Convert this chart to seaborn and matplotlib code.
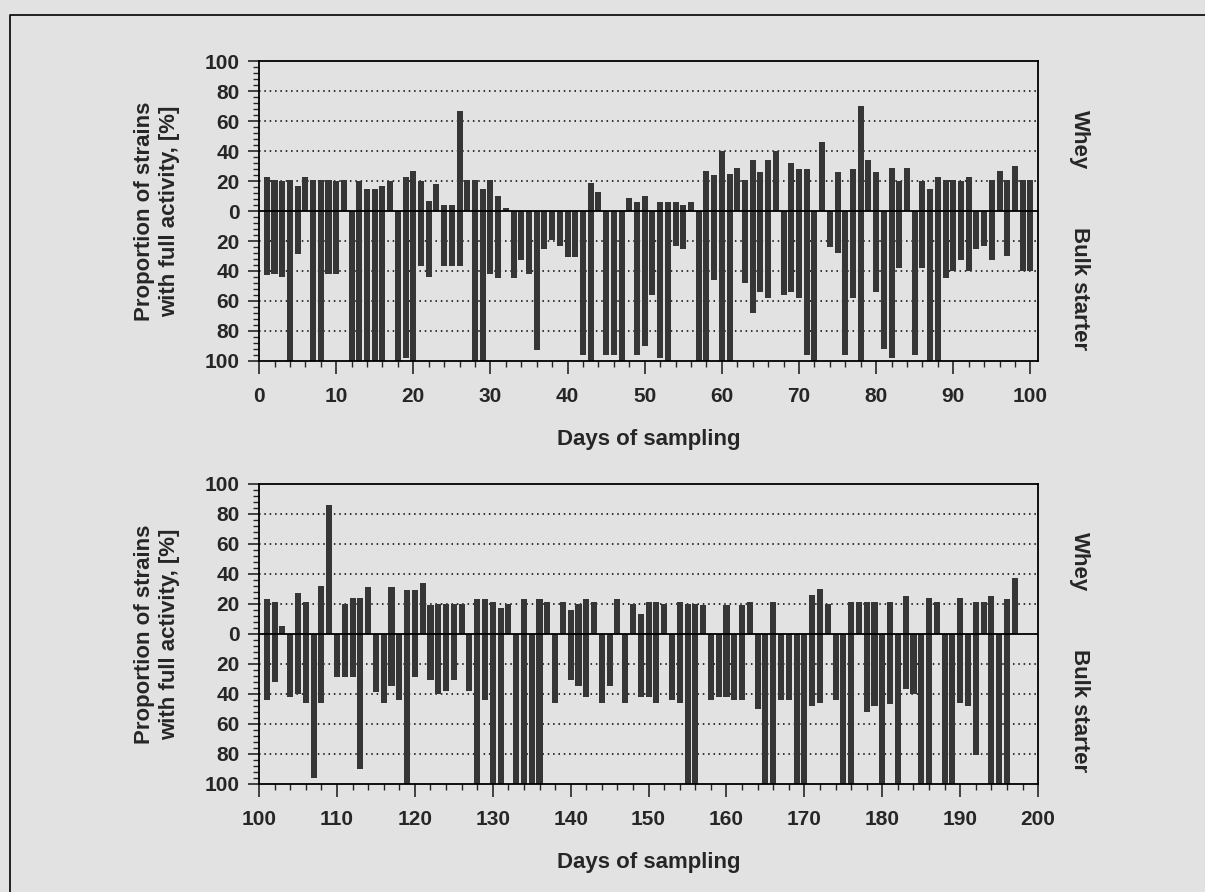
import pandas as pd
import matplotlib.pyplot as plt
import seaborn as sns
from matplotlib.ticker import MultipleLocator
from matplotlib.lines import Line2D

# days 1-100 (upper panel)
days_a = list(range(1, 101))
whey_a = [23, 21, 20, 21, 17, 23, 21, 21, 21, 20,
          21, 0, 20, 15, 15, 17, 20, 0, 23, 27,
          20, 7, 18, 4, 4, 67, 21, 21, 15, 21,
          10, 2, 0, 0, 0, 0, 0, 0, 0, 0,
          0, 0, 19, 13, 0, 0, 0, 9, 6, 10,
          0, 6, 6, 6, 4, 6, 0, 27, 24, 40,
          25, 29, 21, 34, 26, 34, 40, 0, 32, 28,
          28, 0, 46, 0, 26, 0, 28, 70, 34, 26,
          0, 29, 20, 29, 0, 20, 15, 23, 21, 21,
          20, 23, 0, 0, 21, 27, 21, 30, 21, 21]
bulk_a = [43, 42, 44, 100, 29, 0, 100, 100, 42, 42,
          0, 100, 100, 100, 100, 100, 0, 100, 98, 100,
          37, 44, 0, 37, 37, 37, 0, 100, 100, 42,
          45, 0, 45, 33, 42, 93, 25, 19, 23, 31,
          31, 96, 100, 0, 96, 96, 100, 0, 96, 90,
          56, 98, 100, 23, 25, 0, 100, 100, 46, 100,
          100, 0, 48, 68, 54, 58, 0, 56, 54, 58,
          96, 100, 0, 24, 28, 96, 58, 100, 0, 54,
          92, 98, 38, 0, 96, 38, 100, 100, 45, 40,
          33, 40, 25, 23, 33, 0, 30, 0, 40, 40]

# days 101-197 (lower panel)
days_b = list(range(101, 198))
whey_b = [23, 21, 5, 0, 27, 21, 0, 32, 86, 0,
          20, 24, 24, 31, 0, 0, 31, 0, 29, 29,
          34, 19, 20, 20, 20, 20, 0, 23, 23, 21,
          17, 20, 0, 23, 0, 23, 21, 0, 21, 16,
          20, 23, 21, 0, 0, 23, 0, 20, 13, 21,
          21, 20, 0, 21, 20, 20, 19, 0, 0, 19,
          0, 19, 21, 0, 0, 21, 0, 0, 0, 0,
          26, 30, 20, 0, 0, 21, 21, 21, 21, 0,
          21, 0, 25, 0, 0, 24, 21, 0, 0, 24,
          0, 21, 21, 25, 0, 23, 37]
bulk_b = [44, 32, 0, 42, 40, 46, 96, 46, 0, 29,
          29, 29, 90, 0, 39, 46, 35, 44, 100, 29,
          0, 31, 40, 38, 31, 0, 38, 100, 44, 100,
          100, 0, 100, 100, 100, 100, 0, 46, 0, 31,
          35, 42, 0, 46, 35, 0, 46, 0, 42, 42,
          46, 0, 44, 46, 100, 100, 0, 44, 42, 42,
          44, 44, 0, 50, 100, 100, 44, 44, 100, 100,
          48, 46, 0, 44, 100, 100, 0, 52, 48, 100,
          47, 100, 37, 40, 100, 100, 0, 100, 100, 46,
          48, 81, 0, 100, 100, 100, 0]

bar_col = "#363636"
bg_col = "#e2e2e2"


def long_frame(days, whey, bulk):
    df = pd.DataFrame({
        "day": days + days,
        "value": whey + [-v for v in bulk],
        "series": ["Whey"] * len(days) + ["Bulk starter"] * len(days),
    })
    return df[df["value"] != 0]


def draw(ax, df, xlim, xticks):
    sns.barplot(data=df, x="day", y="value", hue="series",
                palette={"Whey": bar_col, "Bulk starter": bar_col},
                native_scale=True, dodge=False, width=0.78,
                errorbar=None, legend=False, linewidth=0, ax=ax)
    for v in (-80, -60, -40, -20, 20, 40, 60, 80):
        ax.axhline(v, color="black", lw=1.1, ls=(0, (1, 2.5)), zorder=0.5)
    ax.axhline(0, color="black", lw=1.3, zorder=3)
    ax.set_ylim(-100, 100)
    yt = list(range(-100, 101, 20))
    ax.set_yticks(yt)
    ax.set_yticklabels([str(abs(v)) for v in yt])
    ax.yaxis.set_minor_locator(MultipleLocator(4))
    ax.set_xlim(*xlim)
    ax.set_xticks(xticks)
    ax.set_xticklabels([str(t) for t in xticks])
    ax.xaxis.set_minor_locator(MultipleLocator(2))
    ax.tick_params(which="major", direction="out", width=1.2, labelsize=15)
    ax.tick_params(axis="x", which="major", length=9, pad=10)
    ax.tick_params(axis="y", which="major", length=8, pad=6)
    ax.tick_params(which="minor", direction="out", length=4.5, width=1)
    for lab in ax.get_xticklabels() + ax.get_yticklabels():
        lab.set_fontweight("bold")
    for s in ax.spines.values():
        s.set_visible(True)
        s.set_color("black")
        s.set_linewidth(1.3)
    ax.set_facecolor(bg_col)
    ax.set_xlabel("Days of sampling", fontsize=16, fontweight="bold", labelpad=16)
    ax.set_ylabel("Proportion of strains\nwith full activity, [%]",
                  fontsize=16, fontweight="bold", labelpad=18)


sns.set_style("ticks")
plt.rcParams["font.family"] = ["Liberation Sans", "DejaVu Sans"]

fig = plt.figure(figsize=(12.05, 8.92), dpi=100)
fig.patch.set_facecolor(bg_col)

ax1 = fig.add_axes([0.215, 0.5953, 0.6465, 0.3363])
ax2 = fig.add_axes([0.215, 0.1211, 0.6465, 0.3363])

draw(ax1, long_frame(days_a, whey_a, bulk_a), (0, 101), list(range(0, 101, 10)))
draw(ax2, long_frame(days_b, whey_b, bulk_b), (100, 200), list(range(100, 201, 10)))

for yc, txt in [(0.844, "Whey"), (0.677, "Bulk starter"),
                (0.370, "Whey"), (0.203, "Bulk starter")]:
    fig.text(0.896, yc, txt, rotation=-90, ha="center", va="center",
             fontsize=16, fontweight="bold")

# scanned page frame (top and left edges)
fig.add_artist(Line2D([0.0083, 0.0083, 1.0], [0.0, 0.983, 0.983],
                      transform=fig.transFigure, color="black", lw=1.2))

fig.savefig("out.png", dpi=100, facecolor=fig.get_facecolor())
